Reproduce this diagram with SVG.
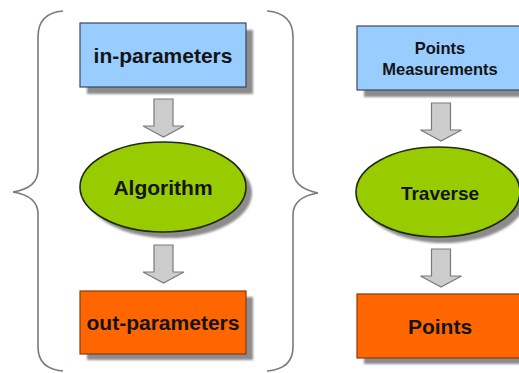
<svg xmlns="http://www.w3.org/2000/svg" width="519" height="373" viewBox="0 0 519 373">
  <defs>
    <style>
      .label { font-family: "Liberation Sans", Arial, Helvetica, sans-serif; font-weight: bold; fill: #141414; text-anchor: middle; }
      .box-in { fill: #99ccff; stroke: #3a4a5a; stroke-width: 1.2; }
      .box-out { fill: #ff6600; stroke: #8a3a10; stroke-width: 1.2; }
      .proc { fill: #99cc00; stroke: #1e2a10; stroke-width: 1.6; }
      .shadow { fill: #8c8c8c; filter: url(#soft); }
      .flow { fill: #cccccc; stroke: #7a7a7a; stroke-width: 1.2; stroke-linejoin: miter; }
      .brace { fill: none; stroke: #7a7a7a; stroke-width: 1.6; }
    </style>
    <filter id="soft" x="-10%" y="-10%" width="120%" height="120%">
      <feGaussianBlur stdDeviation="0.8"/>
    </filter>
    <!-- block arrow pointing down, origin at top centre of shaft -->
    <path id="down" d="M -9.5 0 H 9.5 V 27 H 20.5 L 0 38 L -20.5 27 H -9.5 Z"/>
  </defs>

  <rect width="519" height="373" fill="#ffffff"/>

  <!-- curly braces around the generic pipeline -->
  <g id="braces">
    <path class="brace" d="M 63 11 Q 38 13 38 37 L 38 170 Q 38 188 13 192 Q 38 196 38 214 L 38 347 Q 38 369 63 371"/>
    <path class="brace" d="M 267 11 Q 293 13 293 37 L 293 170 Q 293 188 318 193 Q 293 197 293 215 L 293 347 Q 293 369 267 371"/>
  </g>

  <!-- generic pipeline -->
  <g id="in-parameters">
    <rect class="shadow" x="87" y="30" width="166" height="64"/>
    <rect class="box-in" x="80" y="23" width="166" height="64"/>
    <text class="label" x="163" y="63" font-size="21">in-parameters</text>
  </g>
  <g id="algorithm">
    <ellipse class="shadow" cx="169" cy="193" rx="83" ry="45"/>
    <ellipse class="proc" cx="163" cy="187" rx="83" ry="45"/>
    <text class="label" x="163" y="195" font-size="21">Algorithm</text>
  </g>
  <g id="out-parameters">
    <rect class="shadow" x="87" y="297" width="166" height="63"/>
    <rect class="box-out" x="80" y="291" width="166" height="63"/>
    <text class="label" x="163" y="330" font-size="21">out-parameters</text>
  </g>

  <!-- concrete pipeline -->
  <g id="points-measurements">
    <rect class="shadow" x="364" y="33" width="170" height="64"/>
    <rect class="box-in" x="357" y="26" width="170" height="64"/>
    <text class="label" x="440" y="54" font-size="16.5">Points</text>
    <text class="label" x="440" y="75" font-size="16.5">Measurements</text>
  </g>
  <g id="traverse">
    <ellipse class="shadow" cx="444" cy="198" rx="82" ry="45"/>
    <ellipse class="proc" cx="438" cy="192" rx="82" ry="45"/>
    <text class="label" x="440" y="200" font-size="19">Traverse</text>
  </g>
  <g id="points">
    <rect class="shadow" x="364" y="300" width="170" height="64"/>
    <rect class="box-out" x="357" y="294" width="170" height="64"/>
    <text class="label" x="440" y="334" font-size="21">Points</text>
  </g>

  <!-- flow arrows -->
  <g id="connectors">
    <use href="#down" class="flow" x="163.5" y="99"/>
    <use href="#down" class="flow" x="163.5" y="245"/>
    <use href="#down" class="flow" x="441" y="103"/>
    <use href="#down" class="flow" x="441" y="249"/>
  </g>
</svg>
